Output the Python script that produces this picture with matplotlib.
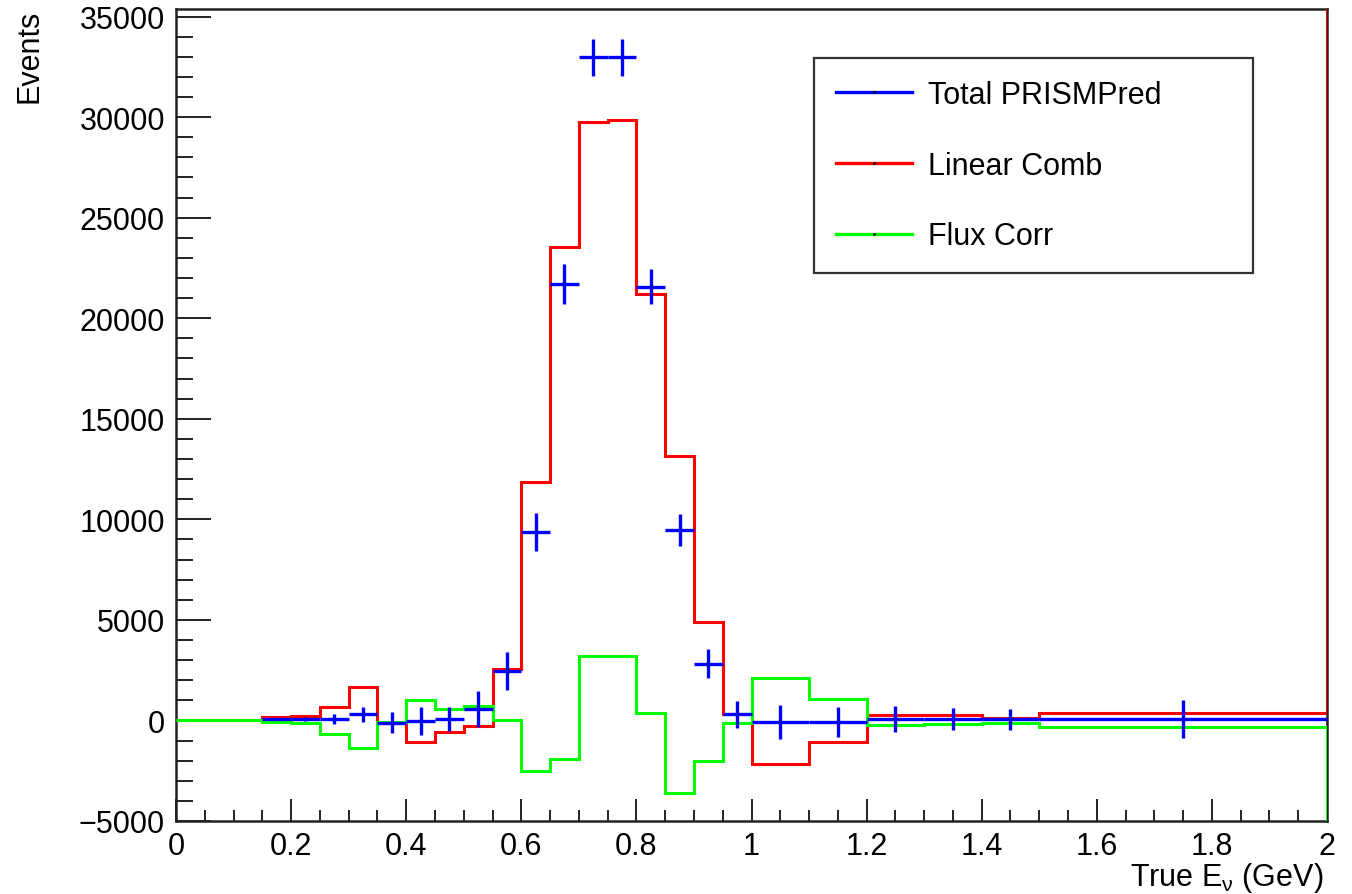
import numpy as np
import matplotlib
matplotlib.use("Agg")
from matplotlib import pyplot as plt
from matplotlib.lines import Line2D
from matplotlib.ticker import MultipleLocator

plt.rcParams['font.family'] = ['Liberation Sans', 'DejaVu Sans']
plt.rcParams['mathtext.fontset'] = 'custom'
plt.rcParams['mathtext.rm'] = 'Liberation Sans'
plt.rcParams['mathtext.it'] = 'Liberation Sans'

# true neutrino energy binning (GeV)
bin_edges = [0.0, 0.05, 0.1, 0.15, 0.2, 0.25, 0.3, 0.35, 0.4, 0.45, 0.5,
             0.55, 0.6, 0.65, 0.7, 0.75, 0.8, 0.85, 0.9, 0.95, 1.0,
             1.1, 1.2, 1.3, 1.4, 1.5, 2.0]

# total PRISM prediction with stat errors (empty bins left as nan)
prism_pred = [np.nan, np.nan, np.nan, 50, 50, 90, 310, -105, -25, 60, 560,
              2460, 9380, 21690, 32970, 32970, 21560, 9460, 2830, 310,
              -75, -75, 60, 60, 60, 60]
prism_err = [0, 0, 0, 0, 100, 250, 380, 540, 710, 600, 900,
             950, 950, 1000, 930, 930, 870, 790, 710, 670,
             830, 730, 650, 560, 525, 940]

# linear combination of off-axis fluxes
lin_comb = [0, 0, 0, 170, 220, 690, 1670, -120, -1050, -550, -275,
            2550, 11880, 23550, 29760, 29860, 21200, 13150, 4900, 340,
            -2180, -1070, 260, 260, 125, 390]

# flux correction term
flux_corr = [0, 0, 0, -55, -105, -690, -1350, -80, 1020, 590, 720,
             0, -2510, -1900, 3210, 3180, 390, -3620, -2010, -105,
             2130, 1050, -240, -190, -105, -305]

# overflow contents (far off scale)
lin_comb_overflow = 1e6
flux_corr_overflow = -1e6

edges = np.array(bin_edges)
centres = 0.5 * (edges[1:] + edges[:-1])
half_w = 0.5 * (edges[1:] - edges[:-1])

fig = plt.figure(figsize=(13.52, 8.95), dpi=100)
ax = fig.add_axes([176 / 1352, 1 - 822 / 895, 1151 / 1352, (822 - 9.5) / 895])

# histograms drawn as steps, with overflow bin past the right edge
edges_ext = np.append(edges, 2.5)
lin_ext = np.append(lin_comb, lin_comb_overflow)
flux_ext = np.append(flux_corr, flux_corr_overflow)
ax.stairs(lin_ext, edges_ext, color=(1, 0, 0), lw=2.2, baseline=None, zorder=3)
ax.stairs(flux_ext, edges_ext, color=(0, 1, 0), lw=2.2, baseline=None, zorder=3)

ax.errorbar(centres, prism_pred, yerr=prism_err, xerr=half_w, fmt='none',
            ecolor=(0, 0, 1), elinewidth=2.4, capsize=0, zorder=4)

ax.set_xlim(0, 2)
ax.set_ylim(-5000, 35400)

ax.xaxis.set_major_locator(MultipleLocator(0.2))
ax.xaxis.set_minor_locator(MultipleLocator(0.05))
ax.yaxis.set_major_locator(MultipleLocator(5000))
ax.yaxis.set_minor_locator(MultipleLocator(1000))
ax.xaxis.set_major_formatter(plt.FuncFormatter(lambda v, p: f"{v:g}"))

ax.tick_params(axis='both', which='both', direction='in', top=False, right=False,
               labelsize=22, color='#222222', width=1.4)
ax.tick_params(axis='x', which='major', length=16, pad=7.5)
ax.tick_params(axis='x', which='minor', length=8)
ax.tick_params(axis='y', which='major', length=25, pad=8)
ax.tick_params(axis='y', which='minor', length=12.5)
for s in ax.spines.values():
    s.set_linewidth(1.8)
    s.set_color('#222222')

fig.text(30 / 1352, 1 - 10 / 895, 'Events', rotation=90, ha='center', va='top', fontsize=22)
fig.text(1323 / 1352, 1 - 886 / 895, r'True E$_{\nu}$ (GeV)', ha='right', va='baseline',
         fontsize=22)

handles = [
    Line2D([], [], color=(0, 0, 1), lw=2.4, marker='.', ms=2, mfc='k', mec='k'),
    Line2D([], [], color=(1, 0, 0), lw=2.4, marker='.', ms=2, mfc='k', mec='k'),
    Line2D([], [], color=(0, 1, 0), lw=2.4, marker='.', ms=2, mfc='k', mec='k'),
]
labels = ['Total PRISMPred', 'Linear Comb', 'Flux Corr']
leg = ax.legend(handles, labels, loc='upper left', mode='expand',
                bbox_to_anchor=(814 / 1352, 1 - 59 / 895, 439 / 1352, 0.0),
                bbox_transform=fig.transFigure, borderaxespad=0, fontsize=22,
                handlelength=2.5, handletextpad=0.5, labelspacing=1.33,
                borderpad=0.72, numpoints=1, fancybox=False, framealpha=1)
leg.get_frame().set_edgecolor('#333333')
leg.get_frame().set_linewidth(1.6)

fig.savefig('out.png', dpi=100)
